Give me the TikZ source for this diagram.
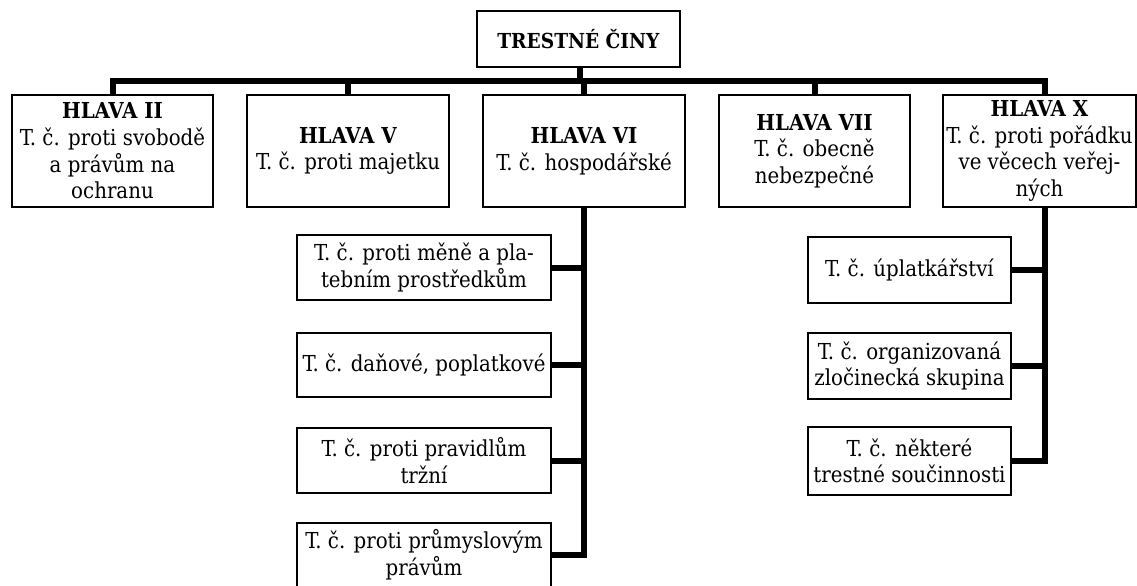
\documentclass[tikz,border=0pt]{standalone}
\usepackage{fontspec}
\setmainfont{DejaVu Serif Condensed}
\begin{document}
\begin{tikzpicture}[x=0.75pt,y=-0.75pt,
  box/.style={draw, line width=1.1pt, align=center, inner sep=0pt, fill=white,
    font=\fontsize{16.5}{20}\selectfont},
  conn/.style={line width=4.5pt, line join=miter}]
\useasboundingbox (0,0) rectangle (1137,585);
\coordinate (bus) at (0,81);
\coordinate (xtop) at (1045,95);
\coordinate (xbot) at (1045,207);
\coordinate (ttop) at (579.5,67);
% boxes
\node[box, minimum width=152.25pt, minimum height=42pt, font=\fontsize{15.5}{20}\selectfont] (top) at (578.5,39) {\textbf{TRESTNÉ ČINY}};
\node[box, minimum width=150.75pt, minimum height=84pt] (h2) at (112.5,151) {\textbf{HLAVA II}\\T. č. proti svobodě\\a právům na\\ochranu};
\node[box, minimum width=151.5pt, minimum height=84pt] (h5) at (348,151) {\textbf{HLAVA V}\\T. č. proti majetku};
\node[box, minimum width=151.5pt, minimum height=84pt] (h6) at (584,151) {\textbf{HLAVA VI}\\T. č. hospodářské};
\node[box, minimum width=143.25pt, minimum height=84pt] (h7) at (814.5,151) {\textbf{HLAVA VII}\\T. č. obecně\\nebezpečné};
\node[box, minimum width=144.75pt, minimum height=84pt] (h10) at (1039.5,151) {\textbf{HLAVA X}\\T. č. proti pořádku\\ve věcech veřej-\\ných};
\node[box, minimum width=190.5pt, minimum height=48.75pt] (s1) at (424,267.5) {T. č. proti měně a pla-\\tebním prostředkům};
\node[box, minimum width=190.5pt, minimum height=48pt] (s2) at (424,365) {T. č. daňové, poplatkové};
\node[box, minimum width=190.5pt, minimum height=48.75pt] (s3) at (424,460.5) {T. č. proti pravidlům\\tržní};
\node[box, minimum width=190.5pt, minimum height=48pt] (s4) at (424,555) {T. č. proti průmyslovým\\právům};
\node[box, minimum width=152.25pt, minimum height=49.5pt] (r1) at (909.5,270) {T. č. úplatkářství};
\node[box, minimum width=152.25pt, minimum height=49.5pt] (r2) at (909.5,366) {T. č. organizovaná\\zločinecká skupina};
\node[box, minimum width=152.25pt, minimum height=51pt] (r3) at (909.5,461) {T. č. některé\\trestné součinnosti};
% connectors
\draw[conn] (h2.north) |- (xtop |- bus) -- (xtop);
\draw[conn] (ttop) -- (ttop |- bus);
\draw[conn] (h5.north) -- (h5.north |- bus);
\draw[conn] (h6.north) -- (h6.north |- bus);
\draw[conn] (h7.north) -- (h7.north |- bus);
\draw[conn] (h6.south) |- (s4.east);
\draw[conn] (s1.east) -- (s1.east -| h6.south);
\draw[conn] (s2.east) -- (s2.east -| h6.south);
\draw[conn] (s3.east) -- (s3.east -| h6.south);
\draw[conn] (xbot) |- (r3.east);
\draw[conn] (r1.east) -- (r1.east -| xbot);
\draw[conn] (r2.east) -- (r2.east -| xbot);
\end{tikzpicture}
\end{document}
